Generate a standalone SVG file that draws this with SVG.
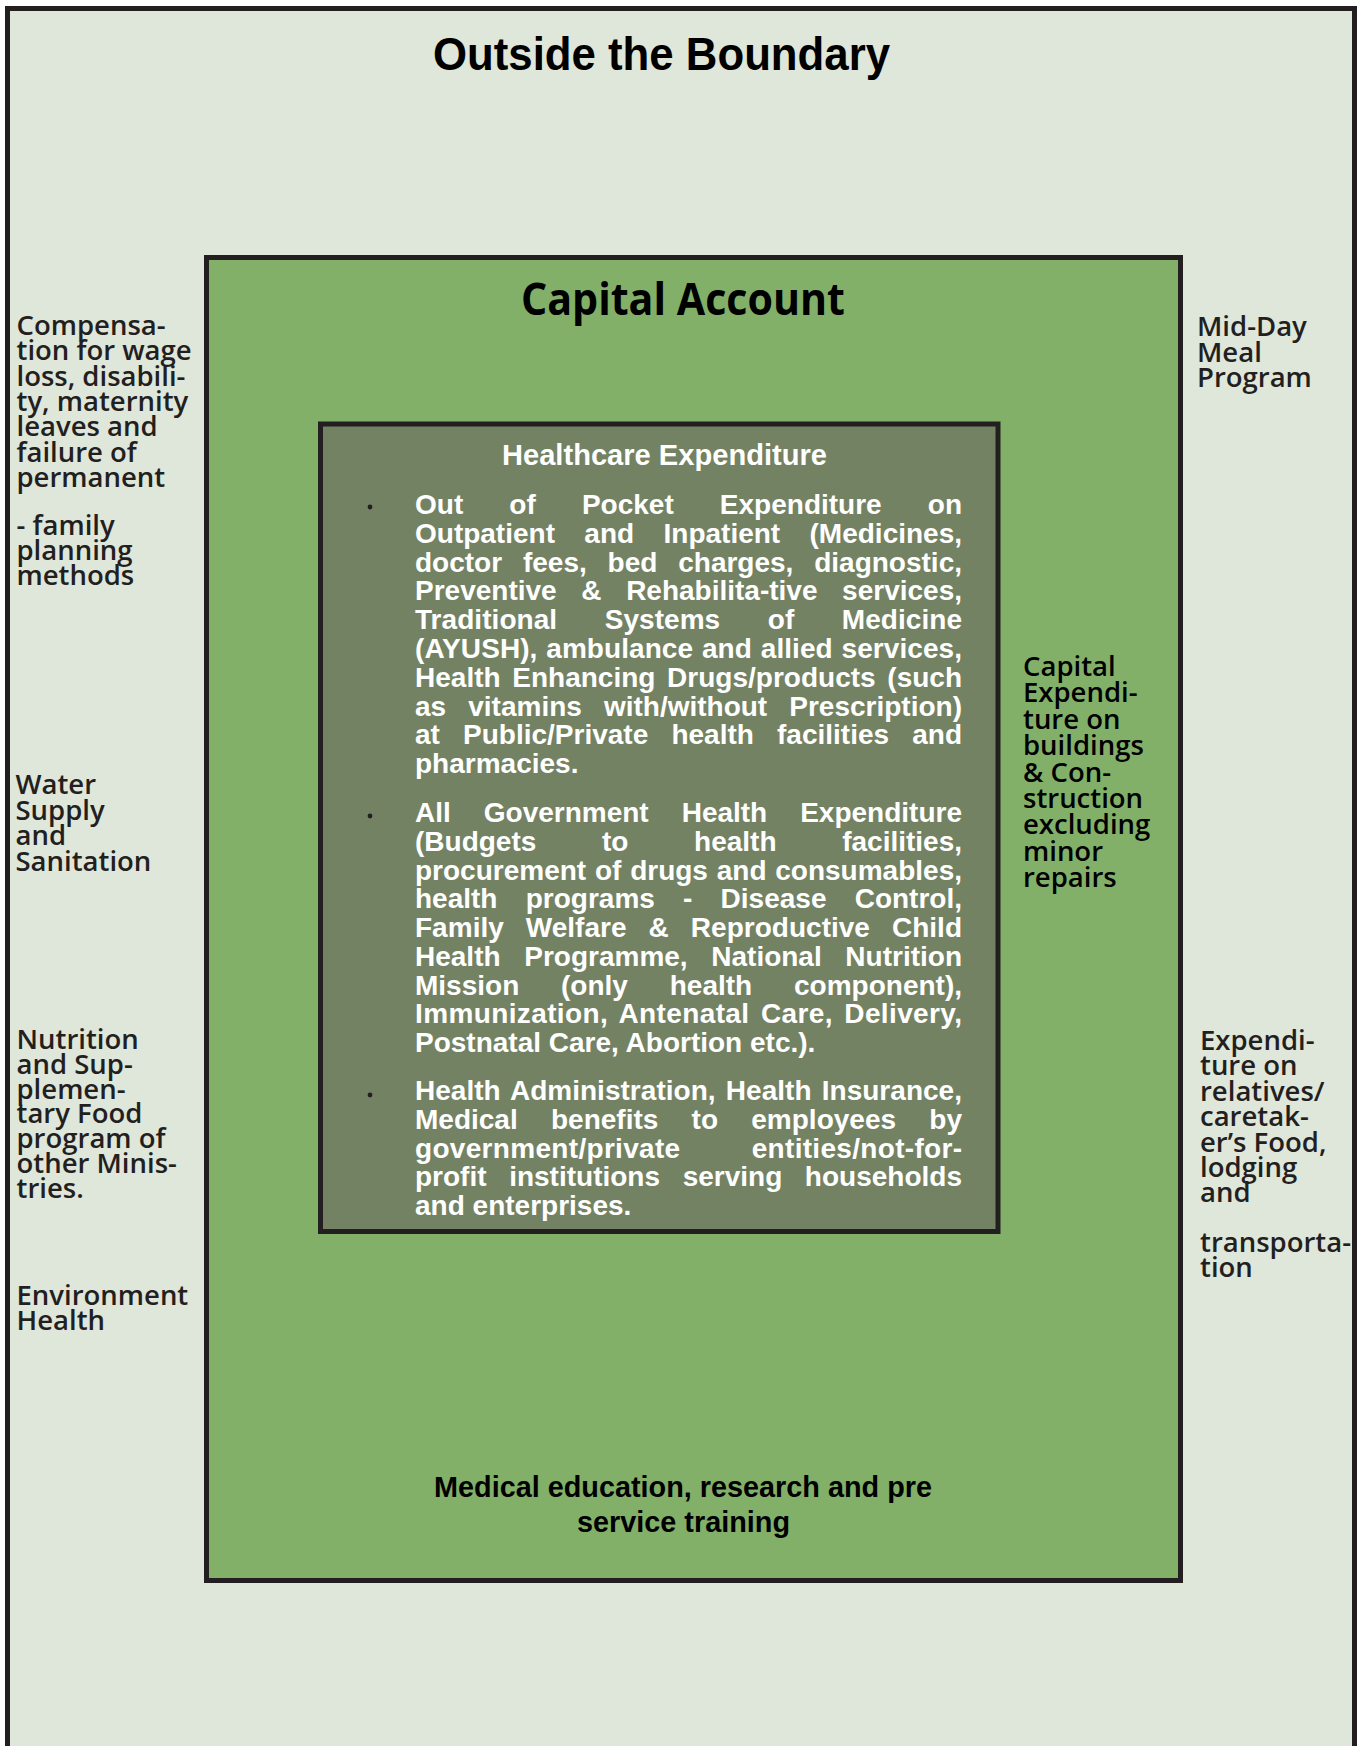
<svg xmlns="http://www.w3.org/2000/svg" width="1357" height="1746" viewBox="0 0 1357 1746">
<style>
.frame{fill:#dfe6da;stroke:#231f20;stroke-width:5}
.cap{fill:#82b069;stroke:#231f20;stroke-width:5}
.hc{fill:#748264;stroke:#231f20;stroke-width:5}
.side{font-family:"Open Sans","Liberation Sans",sans-serif;font-weight:600;font-size:27.5px;fill:#231f20}
.sideb{font-family:"Open Sans","Liberation Sans",sans-serif;font-weight:600;font-size:27.5px;fill:#000}
.ttl{font-family:"Liberation Sans",Arial,sans-serif;font-weight:bold;fill:#000}
.cttl{font-family:"Open Sans","Liberation Sans",sans-serif;font-weight:700;font-size:45px;fill:#000}
.body{font-family:"Liberation Sans",Arial,sans-serif;font-weight:bold;font-size:28px;fill:#fff}
.dot{fill:#231f20}
</style>
<g id="outside">
<rect class="frame" x="7.5" y="8.5" width="1347" height="1800"/>
<text class="ttl" x="661.5" y="70" font-size="46" text-anchor="middle" textLength="457" lengthAdjust="spacingAndGlyphs">Outside the Boundary</text>
</g>
<g id="capital-account">
<rect class="cap" x="206.5" y="257.5" width="974" height="1323"/>
<text class="cttl" x="683" y="315" text-anchor="middle" textLength="324" lengthAdjust="spacingAndGlyphs">Capital Account</text>
</g>
<g id="healthcare-expenditure">
<rect class="hc" x="320.5" y="424" width="677.5" height="807.5"/>
<text class="ttl" x="664.5" y="465" font-size="29" style="fill:#fff" text-anchor="middle" textLength="325" lengthAdjust="spacingAndGlyphs">Healthcare Expenditure</text>
<circle class="dot" cx="370" cy="507" r="2.4"/>
<circle class="dot" cx="370" cy="816" r="2.4"/>
<circle class="dot" cx="370" cy="1095" r="2.4"/>
<g class="body">
<text x="415" y="514" word-spacing="38.35" textLength="547" lengthAdjust="spacing">Out of Pocket Expenditure on</text>
<text x="415" y="542.8" word-spacing="21.6" textLength="547" lengthAdjust="spacing">Outpatient and Inpatient (Medicines,</text>
<text x="415" y="571.6" word-spacing="13.05" textLength="547" lengthAdjust="spacing">doctor fees, bed charges, diagnostic,</text>
<text x="415" y="600.4" word-spacing="16.85" textLength="547" lengthAdjust="spacing">Preventive &amp; Rehabilita-tive services,</text>
<text x="415" y="629.2" word-spacing="39.7" textLength="547" lengthAdjust="spacing">Traditional Systems of Medicine</text>
<text x="415" y="658" word-spacing="0.97" textLength="547" lengthAdjust="spacing">(AYUSH), ambulance and allied services,</text>
<text x="415" y="686.8" word-spacing="3.92" textLength="547" lengthAdjust="spacing">Health Enhancing Drugs/products (such</text>
<text x="415" y="715.6" word-spacing="14.3" textLength="547" lengthAdjust="spacing">as vitamins with/without Prescription)</text>
<text x="415" y="744.4" word-spacing="15.37" textLength="547" lengthAdjust="spacing">at Public/Private health facilities and</text>
<text x="415" y="773.2">pharmacies.</text>
<text x="415" y="822" word-spacing="25.2" textLength="547" lengthAdjust="spacing">All Government Health Expenditure</text>
<text x="415" y="850.75" word-spacing="57.9" textLength="547" lengthAdjust="spacing">(Budgets to health facilities,</text>
<text x="415" y="879.5" word-spacing="1" textLength="547" lengthAdjust="spacing">procurement of drugs and consumables,</text>
<text x="415" y="908.25" word-spacing="20.4" textLength="547" lengthAdjust="spacing">health programs - Disease Control,</text>
<text x="415" y="937" word-spacing="14.2" textLength="547" lengthAdjust="spacing">Family Welfare &amp; Reproductive Child</text>
<text x="415" y="965.75" word-spacing="15.85" textLength="547" lengthAdjust="spacing">Health Programme, National Nutrition</text>
<text x="415" y="994.5" word-spacing="34" textLength="547" lengthAdjust="spacing">Mission (only health component),</text>
<text x="415" y="1023.25" word-spacing="3.3" textLength="547" lengthAdjust="spacing">Immunization, Antenatal Care, Delivery,</text>
<text x="415" y="1052">Postnatal Care, Abortion etc.).</text>
<text x="415" y="1100" word-spacing="2.4" textLength="547" lengthAdjust="spacing">Health Administration, Health Insurance,</text>
<text x="415" y="1128.75" word-spacing="25.5" textLength="547" lengthAdjust="spacing">Medical benefits to employees by</text>
<text x="415" y="1157.5" word-spacing="63.1" textLength="547" lengthAdjust="spacing">government/private entities/not-for-</text>
<text x="415" y="1186.25" word-spacing="14.8" textLength="547" lengthAdjust="spacing">profit institutions serving households</text>
<text x="415" y="1215">and enterprises.</text>
</g>
</g>
<g id="capital-expenditure-buildings">
<text class="sideb" x="1023">
<tspan x="1023" y="676">Capital</tspan>
<tspan x="1023" y="702.4">Expendi-</tspan>
<tspan x="1023" y="728.8">ture on</tspan>
<tspan x="1023" y="755.2">buildings</tspan>
<tspan x="1023" y="781.6">&amp; Con-</tspan>
<tspan x="1023" y="808">struction</tspan>
<tspan x="1023" y="834.4">excluding</tspan>
<tspan x="1023" y="860.8">minor</tspan>
<tspan x="1023" y="887.2">repairs</tspan>
</text>
</g>
<g id="medical-education">
<text class="ttl" x="683" y="1497" font-size="29" text-anchor="middle" textLength="498" lengthAdjust="spacingAndGlyphs">Medical education, research and pre</text>
<text class="ttl" x="683.5" y="1532" font-size="29" text-anchor="middle" textLength="213" lengthAdjust="spacingAndGlyphs">service training</text>
</g>
<g id="compensation">
<text class="side">
<tspan x="16.5" y="335">Compensa-</tspan>
<tspan x="16.5" y="360.3">tion for wage</tspan>
<tspan x="16.5" y="385.6">loss, disabili-</tspan>
<tspan x="16.5" y="411">ty, maternity</tspan>
<tspan x="16.5" y="436.3">leaves and</tspan>
<tspan x="16.5" y="461.6">failure of</tspan>
<tspan x="16.5" y="487">permanent</tspan>
</text>
<text class="side">
<tspan x="16.5" y="535">- family</tspan>
<tspan x="16.5" y="560">planning</tspan>
<tspan x="16.5" y="585">methods</tspan>
</text>
</g>
<g id="water-supply">
<text class="side">
<tspan x="15.5" y="794">Water</tspan>
<tspan x="15.5" y="819.5">Supply</tspan>
<tspan x="15.5" y="845">and</tspan>
<tspan x="15.5" y="870.5">Sanitation</tspan>
</text>
</g>
<g id="nutrition">
<text class="side">
<tspan x="16.5" y="1049">Nutrition</tspan>
<tspan x="16.5" y="1073.8">and Sup-</tspan>
<tspan x="16.5" y="1098.6">plemen-</tspan>
<tspan x="16.5" y="1123.4">tary Food</tspan>
<tspan x="16.5" y="1148.2">program of</tspan>
<tspan x="16.5" y="1173">other Minis-</tspan>
<tspan x="16.5" y="1197.8">tries.</tspan>
</text>
</g>
<g id="environment-health">
<text class="side">
<tspan x="16.5" y="1305">Environment</tspan>
<tspan x="16.5" y="1330">Health</tspan>
</text>
</g>
<g id="mid-day-meal">
<text class="side">
<tspan x="1197" y="335.7">Mid-Day</tspan>
<tspan x="1197" y="361.7">Meal</tspan>
<tspan x="1197" y="386.7">Program</tspan>
</text>
</g>
<g id="relatives-expenditure">
<text class="side">
<tspan x="1200" y="1050">Expendi-</tspan>
<tspan x="1200" y="1075.4">ture on</tspan>
<tspan x="1200" y="1100.8">relatives/</tspan>
<tspan x="1200" y="1126.2">caretak-</tspan>
<tspan x="1200" y="1151.6">er’s Food,</tspan>
<tspan x="1200" y="1177">lodging</tspan>
<tspan x="1200" y="1202.4">and</tspan>
<tspan x="1200" y="1252">transporta-</tspan>
<tspan x="1200" y="1277">tion</tspan>
</text>
</g>
<g id="connectors"></g>
</svg>
